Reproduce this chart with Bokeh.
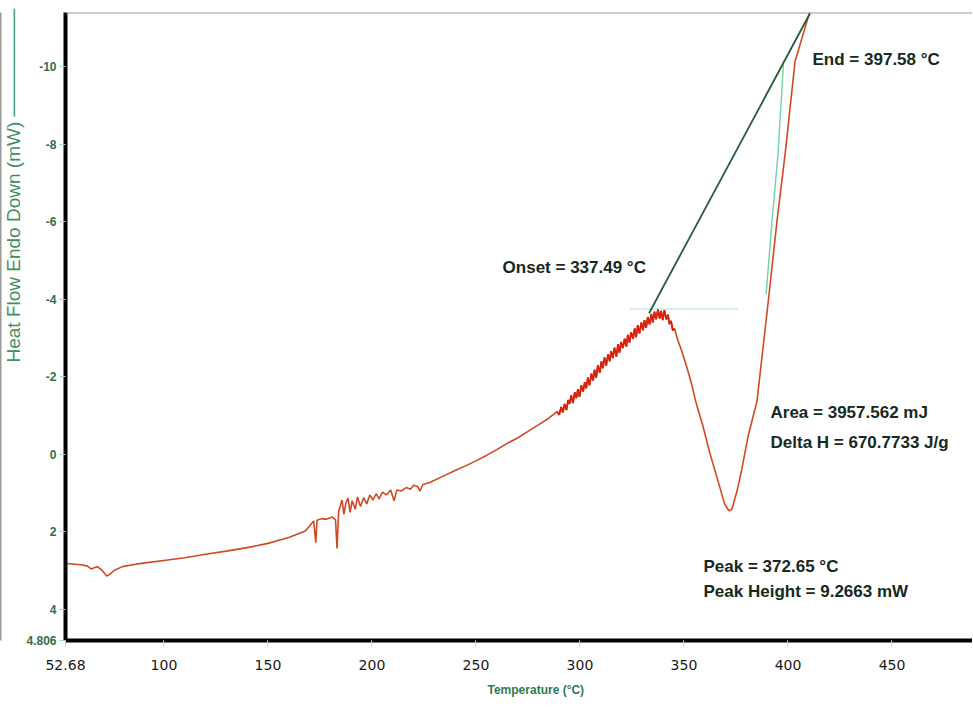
from bokeh.plotting import figure
from bokeh.models import Range1d, FixedTicker, CustomJSTickFormatter, Label, Span, Title, LinearAxis
from bokeh.embed import file_html
from bokeh.resources import INLINE

# ---- data ----
temp_c = [52.68, 56, 60, 63, 65, 66.5, 68, 70, 72.5, 74, 76, 80, 85, 90, 100, 110, 120, 130, 140,
          150, 160, 168, 172, 173, 173.6, 176, 178, 181, 182.5, 183.2, 184, 185.6, 186.5, 187.5,
          188.5, 189.5, 190.5, 192, 193, 194.5, 196, 197.5, 199, 200.5, 202, 203.5, 205, 207, 209,
          210.6, 212, 214, 216.5, 218.5, 220, 222, 223, 224.5, 228, 234, 240, 245, 250, 255, 260,
          265, 270, 275, 280, 285,
          289.0, 290.0, 291.0, 291.8, 292.6, 293.5, 294.3, 295.0, 295.8, 296.6, 297.5, 298.3, 299.0,
          299.8, 300.6, 301.5, 302.3, 303.0, 303.8, 304.6, 305.5, 306.3, 307.0, 307.8, 308.6, 309.5,
          310.3, 311.0, 311.8, 312.6, 313.5, 314.3, 315.0, 315.8, 316.6, 317.5, 318.3, 319.0, 319.8,
          320.6, 321.5, 322.3, 323.0, 323.8, 324.6, 325.5, 326.3, 327.0, 327.8, 328.6, 329.5, 330.3,
          331.0, 331.8, 332.6, 333.5, 334.3, 335.0, 335.8, 336.6, 337.5, 338.3, 339.0, 339.8, 340.6,
          341.5, 342.3, 343.0, 343.8, 344.6, 345.5,
          347, 349, 351.5, 353.5, 355.6, 359, 362.5, 366.8, 369.5, 371.6, 373, 375.5, 377.9, 380.8,
          385.1, 390.9, 394.7, 398.6, 403.4, 410.1, 413]
heat_flow = [2.82, 2.83, 2.85, 2.88, 2.96, 2.93, 2.90, 2.98, 3.14, 3.10, 3.00, 2.90, 2.85, 2.81, 2.74,
             2.67, 2.58, 2.50, 2.41, 2.30, 2.15, 1.98, 1.72, 2.28, 1.70, 1.66, 1.68, 1.62, 1.70, 2.43,
             1.47, 1.18, 1.55, 1.25, 1.13, 1.50, 1.20, 1.42, 1.10, 1.35, 1.12, 1.28, 1.05, 1.18, 1.02,
             1.15, 0.98, 1.05, 0.92, 1.20, 0.92, 0.95, 0.86, 0.90, 0.80, 0.83, 0.95, 0.78, 0.72, 0.57,
             0.42, 0.30, 0.17, 0.03, -0.12, -0.28, -0.42, -0.59, -0.76, -0.93,
             -1.10, -1.02, -1.22, -1.08, -1.30, -1.14, -1.40, -1.30, -1.52, -1.32, -1.60, -1.45, -1.68,
             -1.48, -1.78, -1.62, -1.86, -1.70, -1.98, -1.78, -2.08, -1.90, -2.18, -1.98, -2.30, -2.10,
             -2.40, -2.22, -2.50, -2.28, -2.58, -2.40, -2.66, -2.48, -2.75, -2.52, -2.84, -2.62, -2.90,
             -2.74, -2.98, -2.78, -3.08, -2.88, -3.15, -2.98, -3.25, -3.02, -3.33, -3.12, -3.40, -3.20,
             -3.46, -3.26, -3.54, -3.35, -3.62, -3.40, -3.68, -3.48, -3.74, -3.50, -3.70, -3.46, -3.72,
             -3.48, -3.60, -3.36, -3.44, -3.20, -3.24,
             -2.95, -2.65, -2.22, -1.85, -1.37, -0.75, -0.02, 0.77, 1.28, 1.46, 1.42, 0.95, 0.36, -0.46,
             -1.37, -4.13, -6.01, -7.74, -10.14, -11.35, -11.9]

# noisy stretch before the peak, drawn heavier
noisy_temp = [t for t in temp_c if 288 <= t <= 346]
noisy_hf = [h for t, h in zip(temp_c, heat_flow) if 288 <= t <= 346]

# onset tangent (onset -> end)
tangent_temp = [333.2, 410.6]
tangent_hf = [-3.64, -11.38]
# integration limit curve joining the end point
limit_temp = [389.5, 392.3, 395.2, 397.9]
limit_hf = [-4.13, -6.01, -7.74, -10.14]
# faint baseline near onset
base_temp = [324.0, 376.0]
base_hf = [-3.75, -3.75]

x_ticks = [52.68, 100, 150, 200, 250, 300, 350, 400, 450]
y_ticks = [-10, -8, -6, -4, -2, 0, 2, 4, 4.806]
x_start, x_end = 52.68, 488.7
y_bottom, y_top = 4.806, -11.40

notes = ["Onset = 337.49 \u00b0C", "End = 397.58 \u00b0C", "Area = 3957.562 mJ",
         "Delta H = 670.7733 J/g", "Peak = 372.65 \u00b0C", "Peak Height = 9.2663 mW"]

p = figure(width=972, height=715, x_range=Range1d(x_start, x_end), y_range=Range1d(y_bottom, y_top),
           output_backend="svg", toolbar_location=None,
           min_border_left=65, min_border_right=0, min_border_top=12, min_border_bottom=75)
p.xgrid.visible = False
p.ygrid.visible = False
p.outline_line_color = None
p.background_fill_color = "white"
p.border_fill_color = "white"

p.line(base_temp, base_hf, line_color="#d4f1e6", line_width=2)
p.line(temp_c, heat_flow, line_color="#cf4a22", line_width=1.6)
p.line(noisy_temp, noisy_hf, line_color="#d8230f", line_width=1.8)
p.line(limit_temp, limit_hf, line_color="#6fd3a4", line_width=1.4)
p.line(tangent_temp, tangent_hf, line_color="#2b5a3e", line_width=1.8)

xa = p.xaxis[0]
xa.ticker = FixedTicker(ticks=x_ticks)
xa.formatter = CustomJSTickFormatter(code="""
return (Math.abs(tick - Math.round(tick)) < 1e-6) ? tick.toFixed(0) : tick.toFixed(2);
""")
xa.axis_line_width = 4
xa.axis_line_color = "black"
xa.major_tick_line_color = "#a8dccb"
xa.major_tick_out = 6
xa.major_tick_in = 0
xa.minor_tick_line_color = None
xa.major_label_text_font = "DejaVu Sans"
xa.major_label_text_font_size = "14px"
xa.major_label_text_color = "#1a1a1a"
xa.major_label_standoff = 13

ya = p.yaxis[0]
ya.ticker = FixedTicker(ticks=y_ticks)
ya.formatter = CustomJSTickFormatter(code="""
return (Math.abs(tick - Math.round(tick)) < 1e-6) ? tick.toFixed(0) : tick.toFixed(3);
""")
ya.axis_line_width = 4
ya.axis_line_color = "black"
ya.major_tick_line_color = "#9fd6bd"
ya.major_tick_out = 6
ya.major_tick_in = 0
ya.minor_tick_line_color = None
ya.major_label_text_font = "Liberation Sans"
ya.major_label_text_font_style = "bold"
ya.major_label_text_font_size = "12px"
ya.major_label_text_color = "#2f6e4c"
ya.major_label_standoff = 3

# axis titles
p.add_layout(Title(text="Heat Flow Endo Down (mW)  " + "\u2500" * 8, align="left", offset=278,
                   vertical_align="bottom", standoff=0, text_font="Liberation Sans",
                   text_font_style="normal", text_font_size="19px", text_color="#3f8f62"), "left")
p.add_layout(Title(text="Temperature (\u00b0C)", align="left", offset=422, vertical_align="top",
                   standoff=20, text_font="Liberation Sans", text_font_style="bold",
                   text_font_size="12px", text_color="#2f7a50"), "below")

# grey frame lines of the original picture
edge = LinearAxis(ticker=FixedTicker(ticks=[]), axis_line_color="#9a9a9a", axis_line_width=2,
                  major_tick_line_color=None, minor_tick_line_color=None)
p.add_layout(edge, "left")
p.add_layout(Span(location=y_top, dimension="width", line_color="#9a9a9a", line_width=2))

note_pos = [(262.8, -4.82), (411.8, -10.19), (391.6, -1.08), (391.6, -0.30), (359.4, 2.90), (359.4, 3.54)]
for t, (nx, ny) in zip(notes, note_pos):
    p.add_layout(Label(x=nx, y=ny, text=t, text_align="left", text_baseline="middle",
                       text_font="Liberation Sans", text_font_style="bold",
                       text_font_size="17px", text_color="#15291d"))

open("out.html", "w").write(file_html(p, INLINE))
